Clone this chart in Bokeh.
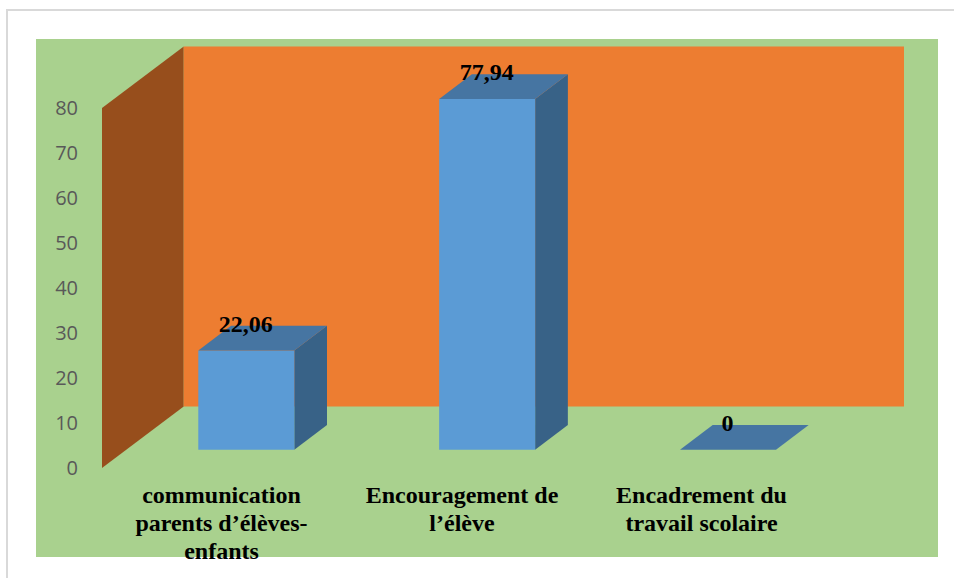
from bokeh.plotting import figure
from bokeh.embed import file_html
from bokeh.resources import INLINE
from bokeh.models import FixedTicker, ColumnDataSource
from bokeh.core.properties import value

categories = ["communication\nparents d’élèves-\nenfants", "Encouragement de\nl’élève", "Encadrement du\ntravail scolaire"]
values = [22.06, 77.94, 0]
value_labels = ["22,06", "77,94", "0"]
y_ticks = [0, 10, 20, 30, 40, 50, 60, 70, 80]
y_max = 80

W, H = 954, 578
PX_PER_UNIT = 4.5
PX_PER_CAT = 240.85
X0_PX, Y0_PX = 246.3, 468.0
NUDGE = 0.5


def xd(px):
    return (px - X0_PX) / PX_PER_CAT


def yd(py):
    return (Y0_PX - py) / PX_PER_UNIT


p = figure(width=W, height=H, x_range=(xd(NUDGE), xd(W + NUDGE)), y_range=(yd(H + NUDGE), yd(NUDGE)),
           toolbar_location=None, output_backend="svg", min_border=0,
           background_fill_color="white", border_fill_color="white",
           x_axis_location=None)
p.margin = (0, 0, 0, 0)
p.grid.visible = False
p.outline_line_color = None

GREY, GREEN, ORANGE, WALL = "#D9D9D9", "#A9D18E", "#ED7D31", "#974E1C"
FRONT, TOP, SIDE = "#5B9BD5", "#4675A2", "#386287"

# page frame and chart background
p.quad(left=xd(6), right=xd(W + 1), top=yd(9), bottom=yd(11), color=GREY, line_width=0)
p.quad(left=xd(6), right=xd(8), top=yd(9), bottom=yd(H + 1), color=GREY, line_width=0)
p.quad(left=xd(36), right=xd(938), top=yd(39), bottom=yd(557), color=GREEN, line_width=0)

# 3-D walls
WALL_DX = xd(183.7) - xd(102)
WALL_DY = 61.5 / PX_PER_UNIT
wall_x = xd(102)
p.patch([wall_x, wall_x + WALL_DX, wall_x + WALL_DX, wall_x],
        [0, WALL_DY, y_max + WALL_DY, y_max], color=WALL, line_width=0)
p.quad(left=wall_x + WALL_DX, right=xd(904), bottom=WALL_DY, top=y_max + WALL_DY,
       color=ORANGE, line_width=0)

# 3-D bars
BAR_W = 96 / PX_PER_CAT
BAR_DX = 32.7 / PX_PER_CAT
BAR_DY = 24.7 / PX_PER_UNIT
BASE = (Y0_PX - 449.7) / PX_PER_UNIT
for i, v in enumerate(values):
    l, r, t = i - BAR_W / 2, i + BAR_W / 2, BASE + v
    if v > 0:
        p.patch([r, r + BAR_DX, r + BAR_DX, r], [BASE, BASE + BAR_DY, t + BAR_DY, t],
                color=SIDE, line_width=0)
        p.quad(left=l, right=r, bottom=BASE, top=t, color=FRONT, line_width=0)
    p.patch([l, r, r + BAR_DX, l + BAR_DX], [t, t, t + BAR_DY, t + BAR_DY],
            color=TOP, line_width=0)

# value labels
lab = ColumnDataSource(dict(
    x=[i - 0.002 for i in range(len(values))],
    y=[BASE + v for v in values],
    t=value_labels))
p.text("x", "y", text="t", source=lab, text_align="center", text_baseline="middle",
       y_offset=-26, text_font=value("Liberation Serif"), text_font_style="bold",
       text_font_size="24px", text_color="black")

# category labels
cat = ColumnDataSource(dict(
    x=[xd(221.5), xd(462), xd(701.5)],
    y=[yd(482)] * 3,
    t=categories))
p.text("x", "y", text="t", source=cat, text_align="center", text_baseline="top",
       text_font=value("Liberation Serif"), text_font_style="bold",
       text_font_size="24px", text_color="black", text_line_height=1.07)

# value axis drawn inside the chart background
p.yaxis.fixed_location = xd(91)
p.yaxis.ticker = FixedTicker(ticks=y_ticks)
p.yaxis.axis_line_color = None
p.yaxis.major_tick_line_color = None
p.yaxis.minor_tick_line_color = None
p.yaxis.major_label_text_font = "Open Sans"
p.yaxis.major_label_text_font_size = "20px"
p.yaxis.major_label_text_color = "#595959"
p.yaxis.major_label_standoff = 7

open("out.html", "w").write(file_html(p, INLINE))
